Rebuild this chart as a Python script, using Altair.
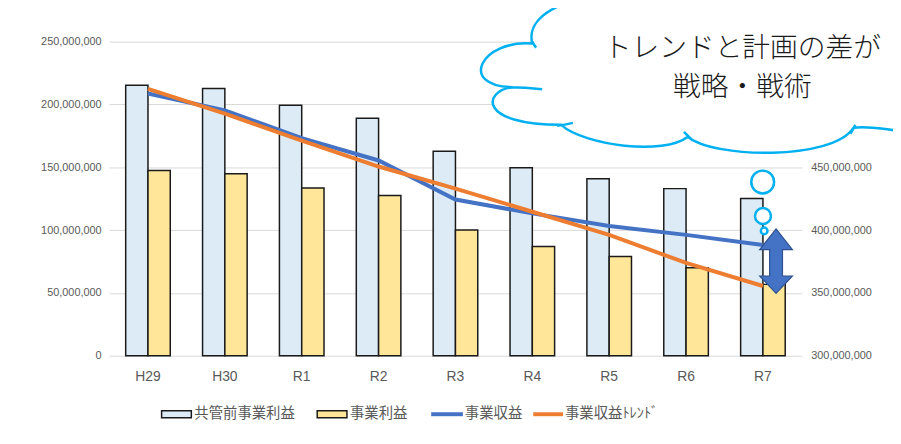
import altair as alt
import pandas as pd

# ---------------- data ----------------
years = ["H29", "H30", "R1", "R2", "R3", "R4", "R5", "R6", "R7"]
pre_profit = [215300000, 212700000, 199300000, 189000000, 162700000,
              149600000, 140900000, 133000000, 125200000]
profit = [147500000, 144800000, 133500000, 127500000, 100000000,
          87000000, 78900000, 70000000, 56800000]
revenue = [508700000, 495300000, 473200000, 455400000, 424300000,
           413300000, 403300000, 396200000, 388100000]
trend = [512400000, 492700000, 471100000, 450600000, 433000000,
         414600000, 396200000, 373900000, 355500000]
left_ticks = [0, 50000000, 100000000, 150000000, 200000000, 250000000]
right_ticks = [300000000, 350000000, 400000000, 450000000]
series_names = ["共管前事業利益", "事業利益", "事業収益", "事業収益ﾄﾚﾝﾄﾞ"]
callout_lines = ["トレンドと計画の差が", "戦略・戦術"]

# ---------------- styling / geometry ----------------
BAR_FILLS = ["#DDEBF7", "#FFE699"]
LINE_COLORS = ["#4472C4", "#ED7D31"]
GRAY = "#595959"
CLOUD_BLUE = "#00B0F0"
PL, PT = 110, 40          # page position of plot area
W, H = 699, 317


def px(x):
    return x - PL


def py(y):
    return y - PT


bars_df = pd.DataFrame({
    "year": years * 2,
    "series": [series_names[0]] * len(years) + [series_names[1]] * len(years),
    "value": pre_profit + profit,
})
rev_df = pd.DataFrame({"year": years, "value": revenue})
trend_df = pd.DataFrame({"year": years, "value": trend})

x_enc = alt.X("year:N", sort=years,
              scale=alt.Scale(paddingInner=0.42, paddingOuter=0.216),
              axis=alt.Axis(title=None, labelAngle=0, domain=False, ticks=False,
                            labelFont="Liberation Sans", labelFontSize=14,
                            labelColor=GRAY, labelPadding=14, grid=False))

bars = alt.Chart(bars_df).mark_bar(stroke="#1a1a1a", strokeWidth=1.5).encode(
    x=x_enc,
    xOffset=alt.XOffset("series:N", sort=series_names[:2],
                        scale=alt.Scale(paddingInner=0, paddingOuter=0)),
    y=alt.Y("value:Q", scale=alt.Scale(domain=[0, 250000000], nice=False),
            axis=alt.Axis(title=None, values=left_ticks, format=",.0f",
                          domain=False, ticks=False, labelPadding=8,
                          labelFont="Liberation Sans", labelFontSize=11,
                          labelColor=GRAY, gridColor="#d9d9d9", gridWidth=1)),
    fill=alt.Fill("series:N", scale=alt.Scale(domain=series_names[:2], range=BAR_FILLS),
                  legend=None),
)

y_right = alt.Y("value:Q", scale=alt.Scale(domain=[300000000, 550000000], nice=False, zero=False),
                axis=alt.Axis(title=None, orient="right", values=right_ticks, format=",.0f",
                              domain=False, ticks=False, labelPadding=9, grid=False,
                              labelFont="Liberation Sans", labelFontSize=11,
                              labelColor=GRAY))

rev_line = alt.Chart(rev_df).mark_line(color=LINE_COLORS[0], strokeWidth=4).encode(
    x=alt.X("year:N", sort=years), y=y_right)
trend_line = alt.Chart(trend_df).mark_line(color=LINE_COLORS[1], strokeWidth=4).encode(
    x=alt.X("year:N", sort=years), y=y_right)

lines = alt.layer(rev_line, trend_line)

chart_main = alt.layer(bars, lines).resolve_scale(y="independent")

one = pd.DataFrame({"a": [0]})

# ---------------- annotations ----------------
# double arrow
acx, acy = 783, 261.5
arrow_path = ("M0,-32.5 L16.5,-11.5 L6.5,-11.5 L6.5,15 L16.5,15 L0,32.5 "
              "L-16.5,15 L-6.5,15 L-6.5,-11.5 L-16.5,-11.5 Z")
arrow = alt.Chart(one).mark_point(shape=arrow_path, size=4, filled=True, fill="#4472C4",
                                  stroke="#2F528F", strokeWidth=1.2, opacity=1).encode(
    x=alt.value(px(acx)), y=alt.value(py(acy)))

# thought bubbles
bubbles = []
for (bx, by, bs) in [(769.5, 181.7, 530), (769.8, 216, 260), (771, 231, 45)]:
    bubbles.append(alt.Chart(one).mark_point(shape="circle", size=bs, filled=True, fill="white",
                                             stroke=CLOUD_BLUE, strokeWidth=2.5, opacity=1).encode(
        x=alt.value(px(bx)), y=alt.value(py(by))))

# cloud callout
ccx, ccy = 720, 60


def r(x, y):
    return f"{x - ccx:.1f},{y - ccy:.1f}"


outline = [
    ("M", [(620, -30)]), ("L", [(620, -6)]),
    ("C", [(570, -6), (530, 14), (537, 42)]),
    ("C", [(485, 38), (462, 85), (517, 86)]),
    ("C", [(487, 90), (482, 124), (566, 124)]),
    ("C", [(590, 145), (670, 155), (694, 136)]),
    ("C", [(720, 158), (840, 160), (861, 127)]),
    ("C", [(875, 125), (900, 128), (960, 140)]),
    ("L", [(960, -30)]),
]
path = " ".join(cmd + " " + " ".join(r(*p) for p in pts) for cmd, pts in outline) + " Z"
ticks = [
    [(537, 40), (539, 44), (541, 46)],
    [(513, 86), (530, 86), (547, 88)],
    [(562, 125), (570, 124), (578, 122)],
    [(690, 131), (694, 135), (699, 140)],
    [(863, 124), (861, 128), (858, 133)],
]
for t in ticks:
    path += f" M{r(*t[0])} Q{r(*t[1])} {r(*t[2])}"

cloud = alt.Chart(one).mark_point(shape=path, size=4, filled=True, fill="white",
                                  stroke=CLOUD_BLUE, strokeWidth=2.5, opacity=1).encode(
    x=alt.value(px(ccx)), y=alt.value(py(ccy)))

callout_texts = []
for line, ty in zip(callout_lines, [47.5, 87]):
    callout_texts.append(
        alt.Chart(pd.DataFrame({"t": [line]})).mark_text(
            font="Noto Sans CJK JP", fontSize=28, fontWeight=300, color="#1a1a1a",
            align="center", baseline="middle").encode(
            x=alt.value(px(749)), y=alt.value(py(ty)), text="t:N"))

# ---------------- legend ----------------
LY = 416
legend_layers = []
box_x = [(163, 193), (320, 350)]
for i in range(2):
    x0, x1 = box_x[i]
    legend_layers.append(alt.Chart(one).mark_rect(fill=BAR_FILLS[i], stroke="#1a1a1a",
                                                  strokeWidth=1.5).encode(
        x=alt.value(px(x0)), x2=alt.value(px(x1)),
        y=alt.value(py(LY - 3.5)), y2=alt.value(py(LY + 3.5))))
line_x = [(435, 467), (538, 568)]
for i in range(2):
    x0, x1 = line_x[i]
    legend_layers.append(alt.Chart(one).mark_rule(color=LINE_COLORS[i], strokeWidth=4).encode(
        x=alt.value(px(x0)), x2=alt.value(px(x1)), y=alt.value(py(LY))))
text_x = [196, 353, 469, 570]
for i, name in enumerate(series_names):
    legend_layers.append(alt.Chart(pd.DataFrame({"t": [name]})).mark_text(
        font="Noto Sans CJK JP", fontSize=14.5, color=GRAY, align="left",
        baseline="middle").encode(
        x=alt.value(px(text_x[i])), y=alt.value(py(LY)), text="t:N"))

chart = alt.layer(chart_main, arrow, *bubbles, cloud, *callout_texts, *legend_layers).properties(
    width=W, height=H,
    autosize=alt.AutoSizeParams(type="none"),
    padding={"left": PL - 8, "top": PT - 8, "right": 893 - (PL - 8) - W, "bottom": 420 - (PT - 8) - H},
).configure_view(stroke="transparent")

chart.save("out.html", embed_options={"renderer": "svg", "actions": False})
